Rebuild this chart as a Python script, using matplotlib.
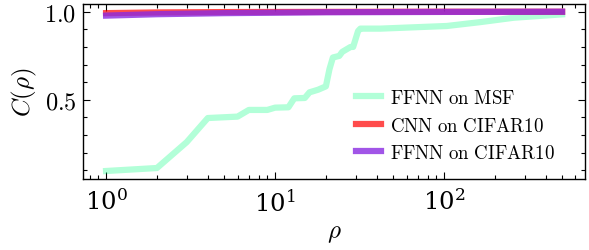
import numpy as np
import matplotlib
matplotlib.use('Agg')
import matplotlib.pyplot as plt
from matplotlib.ticker import LogLocator, MultipleLocator, NullFormatter

plt.rcParams['mathtext.fontset'] = 'cm'
plt.rcParams['font.family'] = 'serif'

# values
rho_msf = [1, 2, 3, 4, 6, 7, 9, 10, 12, 13, 15, 16, 18, 20, 21, 22, 24, 25, 28, 29, 31, 32, 42, 104, 164, 259, 500]
c_msf = [0.095, 0.112, 0.259, 0.396, 0.404, 0.442, 0.442, 0.455, 0.457, 0.508, 0.51, 0.542, 0.557, 0.576,
         0.674, 0.74, 0.749, 0.772, 0.80, 0.80, 0.89, 0.904, 0.904, 0.919, 0.941, 0.966, 0.985]
rho_cnn = [1, 2, 5, 20, 100, 500]
c_cnn = [0.992, 0.996, 0.998, 0.999, 1.0, 1.0]
rho_ffnn = [1, 2, 5, 20, 100, 500]
c_ffnn = [0.978, 0.986, 0.992, 0.997, 0.999, 1.0]

fig = plt.figure(figsize=(5.89, 2.51), dpi=100)
ax = fig.add_axes([0.1414, 0.283, 0.8516, 0.698])

lw = 4.5
ax.plot(rho_msf, c_msf, color='springgreen', alpha=0.3, lw=lw, label=r'$\mathrm{FFNN\ on\ MSF}$')
ax.plot(rho_cnn, c_cnn, color='red', alpha=0.7, lw=lw, label=r'$\mathrm{CNN\ on\ CIFAR10}$')
ax.plot(rho_ffnn, c_ffnn, color='blueviolet', alpha=0.8, lw=lw, label=r'$\mathrm{FFNN\ on\ CIFAR10}$')

ax.set_xscale('log')
ax.xaxis.set_minor_locator(LogLocator(base=10, subs=np.arange(2, 10)))
ax.xaxis.set_minor_formatter(NullFormatter())
ax.set_yticks([0.5, 1.0])
ax.set_yticklabels([r'$0.5$', r'$1.0$'])
ax.yaxis.set_minor_locator(MultipleLocator(0.1))

ax.tick_params(which='both', direction='in', top=True, right=True, width=0.8, labelsize=17.5)
ax.tick_params(axis='x', which='major', pad=7)
ax.tick_params(axis='y', which='major', pad=5)
ax.tick_params(which='major', length=5)
ax.tick_params(which='minor', length=2.8)
for s in ax.spines.values():
    s.set_linewidth(1.0)

ax.set_xlabel(r'$\rho$', fontsize=18, labelpad=4)
ax.set_ylabel(r'$C(\rho)$', fontsize=18, labelpad=4)

ax.legend(loc='lower right', frameon=False, fontsize=13.6, handlelength=1.3,
          labelspacing=0.5, handletextpad=0.5, borderaxespad=0.5,
          bbox_to_anchor=(0.975, 0.0))

fig.savefig('out.png', dpi=100)
